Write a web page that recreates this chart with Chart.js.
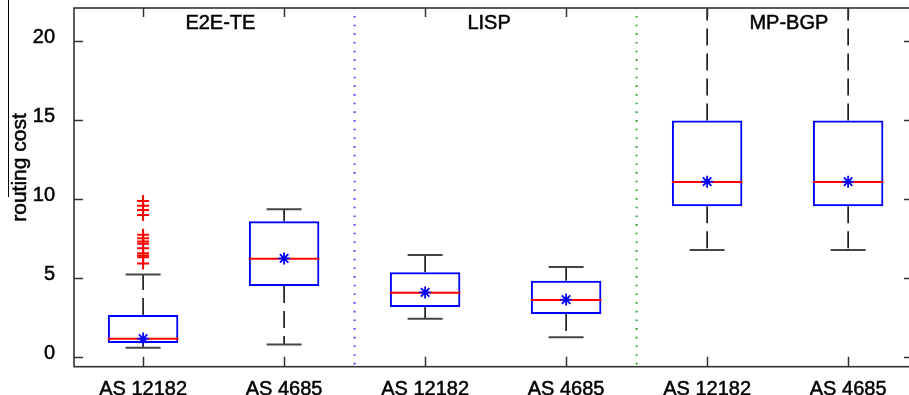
<!DOCTYPE html>
<html><head><meta charset="utf-8">
<script src="https://cdn.jsdelivr.net/npm/chart.js@4.4.0/dist/chart.umd.min.js"></script>
<style>
html,body{margin:0;padding:0;background:#fff;overflow:hidden;width:909px;height:395px}
#wrap{position:relative;width:915px;height:395px}
</style></head><body><div id="wrap"><canvas id="c"></canvas></div>
<script>
// ---- data ----
const categories = ['AS 12182', 'AS 4685', 'AS 12182', 'AS 4685', 'AS 12182', 'AS 4685'];
const groups = ['E2E-TE', 'LISP', 'MP-BGP'];
const lowerWhisker = [0.57, 0.78, 2.41, 1.23, 6.75, 6.75];
const q1 = [0.87, 4.47, 3.15, 2.70, 9.52, 9.52];
const medians = [1.14, 6.20, 4.05, 3.59, 11.06, 11.06];
const q3 = [2.64, 8.57, 5.34, 4.81, 14.95, 14.95];
const upperWhisker = [5.20, 9.33, 6.44, 5.68, 24.0, 24.0];
const means = [1.15, 6.22, 4.07, 3.62, 11.08, 11.08];
const outliersE2E12182 = [9.85, 9.56, 9.29, 8.97, 7.72, 7.5, 7.3, 7.15, 6.86, 6.55, 6.4, 6.3, 5.9];
const outliers = [outliersE2E12182, [], [], [], [], []];
const yTicks = [0, 5, 10, 15, 20];
const yLabel = 'routing cost';

// ---- axis limits ----
const X_MIN = 0.51, X_MAX = 6.46, Y_MIN = -0.63, Y_MAX = 22.07;
const FONT = "'Liberation Sans', Arial, Helvetica, sans-serif";

const xs = categories.map((_, i) => i + 1);

const whiskerData = [];
xs.forEach((x, i) => {
  whiskerData.push({x, y: q3[i]}, {x, y: upperWhisker[i]}, {x, y: null});
  whiskerData.push({x, y: q1[i]}, {x, y: lowerWhisker[i]}, {x, y: null});
});
const capData = [];
xs.forEach((x, i) => { capData.push({x, y: upperWhisker[i]}, {x, y: lowerWhisker[i]}); });
const outlierData = [];
xs.forEach((x, i) => outliers[i].forEach(v => outlierData.push({x, y: v})));
const groupBoundaries = groups.slice(1).map((_, g) => 2 * (g + 1) + 0.5);
const sepColors = ['#3f3fff', '#2e9a2e'];

const pointSet = (data, style, radius, color, width, order) => ({
  type: 'line', data, showLine: false, pointStyle: style, pointRadius: radius,
  pointBorderColor: color, pointBackgroundColor: color, pointBorderWidth: width,
  order, clip: 0
});

const datasets = [
  {
    type: 'bar',
    data: xs.map((x, i) => ({x, y: [q1[i], q3[i]]})),
    backgroundColor: 'rgba(0,0,0,0)', borderColor: '#0000ff', borderWidth: 2,
    borderSkipped: false, barPercentage: 0.5, categoryPercentage: 1, order: 3
  },
  {
    type: 'line', data: whiskerData, borderColor: '#111', borderWidth: 1.6,
    borderDash: [17, 8], pointRadius: 0, spanGaps: false, order: 5, clip: 0
  },
  pointSet(capData, 'line', 17.5, '#444', 2, 4),
  pointSet(xs.map((x, i) => ({x, y: medians[i]})), 'line', 35.25, '#ff0000', 2, 2),
  pointSet(outlierData, 'cross', 6, '#ff0000', 2, 1),
  pointSet(xs.map((x, i) => ({x, y: means[i]})), 'star', 6, '#0000ff', 1.8, 0)
];
groupBoundaries.forEach((b, k) => {
  datasets.push({
    type: 'line', data: [{x: b, y: Y_MAX}, {x: b, y: Y_MIN}],
    borderColor: sepColors[k], borderWidth: 2, borderDash: [1.6, 7.07], borderDashOffset: -8,
    pointRadius: 0, order: 6, clip: 0
  });
});

const decor = {
  id: 'decor',
  afterDraw(chart) {
    const {ctx, chartArea: a, scales} = chart;
    const xS = scales.x, yS = scales.y;
    ctx.save();
    // frame
    ctx.strokeStyle = '#333';
    ctx.lineWidth = 1.6;
    ctx.strokeRect(a.left, a.top, a.right - a.left, a.bottom - a.top);
    // inward ticks
    ctx.beginPath();
    yTicks.forEach(v => {
      const py = Math.round(yS.getPixelForValue(v)) + 0.5;
      ctx.moveTo(a.left, py); ctx.lineTo(a.left + 9, py);
      ctx.moveTo(a.right, py); ctx.lineTo(a.right - 9, py);
    });
    xs.forEach(v => {
      const px = Math.round(xS.getPixelForValue(v)) + 0.5;
      ctx.moveTo(px, a.bottom); ctx.lineTo(px, a.bottom - 10);
      ctx.moveTo(px, a.top); ctx.lineTo(px, a.top + 9);
    });
    ctx.lineWidth = 1.5;
    ctx.stroke();
    // group labels (left aligned, like MATLAB text())
    ctx.fillStyle = '#000';
    ctx.strokeStyle = '#000';
    ctx.lineWidth = 0.5;
    ctx.font = '20px ' + FONT;
    ctx.textAlign = 'left';
    ctx.textBaseline = 'alphabetic';
    groups.forEach((g, k) => {
      const gx = xS.getPixelForValue(1.3 + 2 * k), gy = yS.getPixelForValue(20.72);
      ctx.fillText(g, gx, gy);
      ctx.strokeText(g, gx, gy);
    });
    // y axis label
    ctx.save();
    ctx.translate(26, 167.5);
    ctx.rotate(-Math.PI / 2);
    ctx.font = '21px ' + FONT;
    ctx.textAlign = 'center';
    ctx.fillText(yLabel, 0, 0);
    ctx.strokeText(yLabel, 0, 0);
    ctx.restore();
    // thin scan line at far left present in the reference image
    ctx.beginPath();
    ctx.moveTo(8.5, 0); ctx.lineTo(8.5, 197);
    ctx.strokeStyle = '#000'; ctx.lineWidth = 1;
    ctx.stroke();
    ctx.restore();
  }
};

new Chart(document.getElementById('c'), {
  type: 'bar',
  data: {datasets},
  options: {
    responsive: true, maintainAspectRatio: false, animation: false, events: [],
    layout: {autoPadding: false, padding: {top: 8, right: 2, left: 0, bottom: 0}},
    plugins: {legend: {display: false}, tooltip: {enabled: false}},
    scales: {
      x: {
        type: 'linear', min: X_MIN, max: X_MAX, offset: false,
        grid: {display: false}, border: {display: false},
        afterBuildTicks: s => { s.ticks = xs.map(v => ({value: v})); },
        afterFit: s => { s.height = 28.3; s.paddingLeft = 0; s.paddingRight = 0; },
        ticks: {
          autoSkip: false, maxRotation: 0, padding: 3, color: '#000',
          textStrokeColor: '#000', textStrokeWidth: 0.5,
          font: {family: FONT, size: 20},
          callback: (v, i) => categories[i]
        }
      },
      y: {
        type: 'linear', min: Y_MIN, max: Y_MAX,
        grid: {display: false}, border: {display: false},
        afterBuildTicks: s => { s.ticks = yTicks.map(v => ({value: v})); },
        afterFit: s => { s.width = 74; s.paddingTop = 0; s.paddingBottom = 0; },
        ticks: {padding: 11, labelOffset: -3, color: '#000',
          textStrokeColor: '#000', textStrokeWidth: 0.5,
          font: {family: FONT, size: 20}}
      }
    }
  },
  plugins: [decor]
});
</script>
</body></html>
